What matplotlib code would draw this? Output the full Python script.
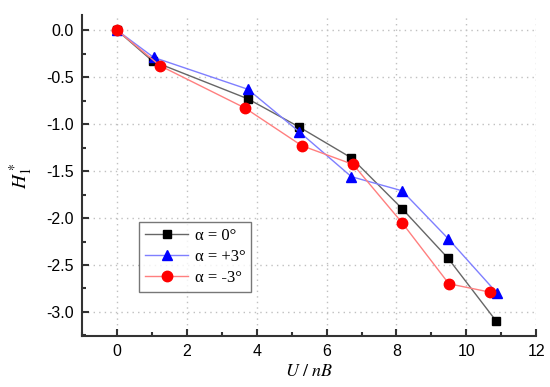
import matplotlib
matplotlib.use("Agg")
import matplotlib.pyplot as plt
from matplotlib.ticker import MultipleLocator

plt.rcParams['mathtext.fontset'] = 'stix'

x0 = [0, 1.02, 3.74, 5.21, 6.71, 8.16, 9.48, 10.86]
y0 = [0, -0.33, -0.73, -1.03, -1.36, -1.90, -2.43, -3.10]
xp = [0, 1.05, 3.75, 5.21, 6.71, 8.16, 9.48, 10.88]
yp = [0, -0.29, -0.63, -1.08, -1.56, -1.71, -2.22, -2.80]
xm = [0, 1.24, 3.67, 5.29, 6.76, 8.16, 9.50, 10.69]
ym = [0, -0.38, -0.83, -1.23, -1.43, -2.05, -2.70, -2.79]
labels = ['α = 0°', 'α = +3°', 'α = -3°']

fig = plt.figure(figsize=(5.5, 3.87), dpi=100)
ax = fig.add_axes([0.149, 0.132, 0.826, 0.829])

ax.plot(x0, y0, color='#666666', lw=1, marker='s', ms=6, mfc='black', mec='black', label=labels[0], zorder=3)
ax.plot(xp, yp, color='#7f7fff', lw=1, marker='^', ms=7.5, mfc='blue', mec='blue', label=labels[1], zorder=3)
ax.plot(xm, ym, color='#ff7f7f', lw=1, marker='o', ms=7.5, mfc='red', mec='red', label=labels[2], zorder=3)

ax.set_xlim(-1, 12)
ax.set_ylim(-3.255, 0.16)
ax.xaxis.set_major_locator(MultipleLocator(2))
ax.xaxis.set_minor_locator(MultipleLocator(1))
ax.yaxis.set_major_locator(MultipleLocator(0.5))
ax.yaxis.set_minor_locator(MultipleLocator(0.25))
ax.yaxis.set_major_formatter(matplotlib.ticker.FormatStrFormatter('%.1f'))

for s in ['top', 'right']:
    ax.spines[s].set_visible(False)
for s in ['left', 'bottom']:
    ax.spines[s].set_color('#333333')
    ax.spines[s].set_linewidth(1.5)

ax.tick_params(which='both', direction='in', color='#333333', width=1.5)
ax.tick_params(which='major', length=5, labelsize=11.5, pad=6)
ax.tick_params(which='minor', length=3)
for lab in ax.get_xticklabels() + ax.get_yticklabels():
    lab.set_fontfamily('Liberation Sans')

ax.grid(True, which='major', linestyle=(0, (1, 3)), color='#c0c0c0', lw=1)

ax.set_xlabel(r'$U\ /\ nB$', fontsize=13, labelpad=2)
ax.set_ylabel(r'$H_1^*$', fontsize=14, labelpad=8)

leg = ax.legend(loc='lower left', bbox_to_anchor=(0.1256, 0.137), borderaxespad=0,
                prop={'family': 'Liberation Serif', 'size': 12},
                frameon=True, fancybox=False, edgecolor='#555555', handlelength=2.6,
                borderpad=0.35, labelspacing=0.3, handletextpad=0.4)
leg.get_frame().set_linewidth(1)

fig.savefig('out.png', dpi=100)
